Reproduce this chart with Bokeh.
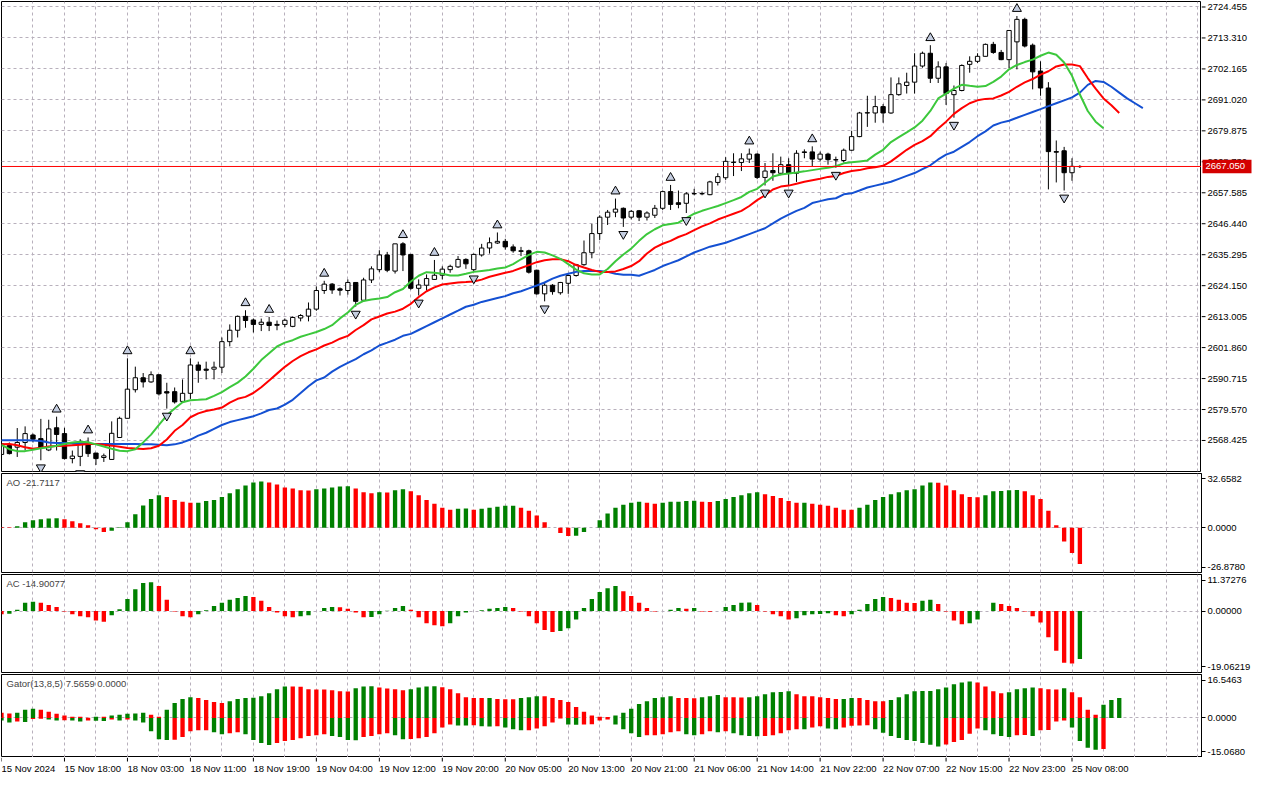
from bokeh.plotting import figure
from bokeh.layouts import column, row
from bokeh.models import Range1d, FixedTicker, Span, Label, ColumnDataSource
from bokeh.core.properties import value
from bokeh.embed import file_html
from bokeh.resources import INLINE

# ---------------- data ----------------
opens = [2563.4, 2566.6, 2566.0, 2567.7, 2570.4, 2569.1, 2565.0, 2573.0, 2570.9, 2561.9,
         2562.7, 2567.7, 2563.9, 2562.3, 2561.6, 2569.5, 2576.4, 2586.7, 2591.0, 2589.5,
         2592.1, 2586.0, 2586.0, 2582.5, 2585.4, 2595.6, 2594.1, 2594.1, 2594.8, 2604.0,
         2608.1, 2613.1, 2611.8, 2610.2, 2611.0, 2610.2, 2610.2, 2609.5, 2612.5, 2613.2,
         2615.7, 2622.4, 2624.7, 2623.0, 2622.4, 2625.3, 2618.9, 2626.2, 2629.9, 2635.2,
         2629.4, 2639.2, 2635.4, 2623.2, 2624.3, 2626.4, 2627.9, 2629.9, 2630.9, 2633.6,
         2629.9, 2635.2, 2637.7, 2639.5, 2640.1, 2638.1, 2636.7, 2636.7, 2629.7, 2621.2,
         2624.3, 2621.6, 2625.0, 2627.8, 2631.7, 2636.0, 2642.9, 2648.8, 2650.6, 2652.0,
         2648.8, 2651.1, 2648.8, 2649.5, 2652.0, 2658.0, 2654.0, 2653.8, 2657.2, 2657.2,
         2656.9, 2661.3, 2663.0, 2668.5, 2668.5, 2669.7, 2671.5, 2663.1, 2665.6, 2664.6,
         2667.7, 2664.6, 2672.3, 2672.3, 2669.7, 2671.5, 2669.5, 2669.2, 2672.9, 2677.8,
         2686.3, 2686.3, 2688.6, 2686.3, 2692.9, 2696.2, 2697.4, 2703.2, 2707.8, 2698.8,
         2702.9, 2692.9, 2694.4, 2703.8, 2704.9, 2706.7, 2711.0, 2708.1, 2705.5, 2711.9,
         2720.0, 2710.7, 2701.4, 2695.3, 2672.4, 2672.7, 2664.8, 2667.0]
highs = [2567.7, 2567.7, 2572.9, 2573.5, 2570.9, 2576.2, 2575.9, 2577.0, 2573.0, 2564.8,
         2568.9, 2569.5, 2563.9, 2563.7, 2575.3, 2577.0, 2598.0, 2595.0, 2592.7, 2593.3,
         2592.1, 2589.2, 2587.5, 2590.4, 2598.0, 2596.8, 2596.8, 2596.8, 2605.5, 2610.2,
         2613.4, 2615.3, 2612.3, 2612.3, 2612.9, 2611.6, 2612.3, 2613.1, 2613.9, 2618.1,
         2623.9, 2625.9, 2625.1, 2623.5, 2626.4, 2625.3, 2627.0, 2631.1, 2636.9, 2636.3,
         2639.2, 2639.8, 2635.4, 2626.4, 2628.2, 2633.4, 2631.1, 2631.7, 2634.8, 2634.0,
         2635.7, 2639.2, 2641.5, 2643.3, 2641.0, 2639.0, 2638.1, 2637.1, 2629.9, 2625.5,
         2624.7, 2625.5, 2628.2, 2632.0, 2640.4, 2646.4, 2649.5, 2651.4, 2655.5, 2652.3,
         2651.4, 2651.4, 2650.9, 2653.2, 2658.4, 2660.4, 2658.4, 2657.8, 2659.0, 2658.0,
         2661.9, 2664.6, 2670.4, 2671.8, 2671.8, 2673.5, 2671.8, 2668.3, 2671.8, 2670.6,
         2670.0, 2672.9, 2673.2, 2674.3, 2672.4, 2672.0, 2670.6, 2673.5, 2679.9, 2686.7,
         2692.5, 2692.5, 2689.5, 2699.1, 2699.1, 2700.8, 2707.8, 2708.4, 2710.7, 2704.9,
         2704.3, 2696.2, 2703.8, 2706.7, 2707.8, 2711.3, 2711.9, 2709.0, 2716.0, 2721.2,
         2720.6, 2711.3, 2704.9, 2697.4, 2676.4, 2674.1, 2670.0, 2667.5]
lows = [2563.0, 2563.4, 2562.5, 2564.8, 2567.7, 2561.3, 2564.6, 2564.8, 2561.6, 2560.2,
        2559.2, 2562.5, 2559.6, 2560.7, 2561.6, 2569.5, 2576.4, 2585.7, 2587.5, 2589.2,
        2584.6, 2579.9, 2581.7, 2582.3, 2583.4, 2589.2, 2590.4, 2590.4, 2592.7, 2602.3,
        2605.5, 2609.0, 2607.3, 2607.8, 2607.8, 2608.1, 2609.2, 2609.2, 2611.3, 2611.3,
        2615.1, 2621.2, 2621.2, 2620.6, 2620.9, 2616.6, 2618.3, 2625.1, 2629.0, 2629.0,
        2628.5, 2629.4, 2622.7, 2620.6, 2622.4, 2626.2, 2626.4, 2628.8, 2630.5, 2630.2,
        2629.3, 2634.6, 2635.7, 2639.2, 2637.1, 2636.0, 2634.8, 2628.5, 2620.9, 2618.5,
        2620.9, 2620.9, 2621.2, 2627.4, 2631.3, 2634.0, 2640.6, 2646.0, 2648.8, 2645.3,
        2648.0, 2647.4, 2647.6, 2648.5, 2651.4, 2651.4, 2652.0, 2650.3, 2656.7, 2656.7,
        2656.7, 2660.2, 2662.2, 2663.6, 2665.4, 2668.3, 2662.5, 2660.2, 2661.9, 2663.9,
        2660.2, 2661.5, 2670.0, 2667.1, 2668.9, 2667.7, 2666.6, 2668.5, 2672.7, 2677.6,
        2681.3, 2682.8, 2682.8, 2686.0, 2692.5, 2693.3, 2693.3, 2702.6, 2697.1, 2697.1,
        2689.2, 2684.6, 2694.1, 2700.8, 2704.3, 2706.7, 2707.6, 2705.3, 2702.4, 2702.0,
        2709.9, 2694.8, 2692.5, 2658.8, 2661.3, 2658.4, 2661.9, 2666.5]
closes = [2567.2, 2563.7, 2567.7, 2570.9, 2568.9, 2565.7, 2572.6, 2570.6, 2561.9, 2562.8,
          2567.7, 2563.7, 2561.9, 2562.9, 2571.0, 2576.4, 2586.9, 2591.0, 2589.5, 2592.1,
          2585.2, 2585.5, 2582.3, 2585.4, 2595.6, 2593.7, 2593.7, 2594.8, 2604.0, 2608.1,
          2613.1, 2611.6, 2610.2, 2611.0, 2609.8, 2609.9, 2611.7, 2612.7, 2613.4, 2615.7,
          2622.4, 2624.7, 2622.6, 2622.5, 2625.3, 2618.5, 2626.2, 2630.2, 2635.2, 2629.7,
          2639.2, 2635.2, 2623.2, 2624.4, 2626.7, 2627.9, 2630.1, 2631.1, 2633.6, 2632.0,
          2635.4, 2637.7, 2639.6, 2640.1, 2638.1, 2636.7, 2636.5, 2629.0, 2621.2, 2624.3,
          2622.0, 2625.3, 2627.8, 2631.7, 2636.0, 2642.9, 2648.8, 2650.6, 2651.7, 2648.5,
          2650.9, 2648.8, 2650.3, 2652.0, 2658.0, 2653.4, 2653.4, 2657.2, 2657.3, 2657.3,
          2661.5, 2663.4, 2668.9, 2668.6, 2669.8, 2671.5, 2663.1, 2665.4, 2664.8, 2667.7,
          2664.6, 2671.8, 2672.1, 2669.7, 2671.5, 2669.5, 2669.4, 2672.9, 2677.8, 2686.3,
          2686.4, 2688.6, 2686.3, 2692.9, 2696.8, 2697.4, 2703.2, 2707.8, 2698.8, 2702.9,
          2693.3, 2694.4, 2703.4, 2704.9, 2706.7, 2711.0, 2708.1, 2705.5, 2716.0, 2720.0,
          2710.4, 2701.1, 2695.3, 2672.4, 2672.2, 2664.8, 2667.1, 2667.05]

# Alligator lines as displayed (already shifted): jaw 8, teeth 5, lips 3 bars forward
jaw = [2568.53, 2568.53, 2568.53, 2568.53, 2568.42, 2568.25, 2567.73, 2567.55, 2567.55, 2567.38,
       2567.38, 2567.20, 2567.13, 2567.13, 2567.13, 2567.13, 2567.13, 2567.13, 2567.03, 2567.03,
       2566.85, 2566.68, 2567.03, 2567.73, 2568.77, 2570.17, 2571.21, 2572.61, 2574.00, 2575.05,
       2575.75, 2576.45, 2577.14, 2578.19, 2579.41, 2579.93, 2581.33, 2583.07, 2585.51, 2587.96,
       2590.05, 2591.10, 2593.19, 2594.93, 2596.33, 2597.72, 2599.47, 2600.86, 2602.61, 2603.65,
       2604.70, 2606.09, 2606.79, 2608.19, 2609.58, 2610.98, 2612.37, 2613.77, 2615.16, 2616.56,
       2617.26, 2618.30, 2619.00, 2619.70, 2620.39, 2621.44, 2622.14, 2623.19, 2624.23, 2625.28,
       2626.67, 2627.72, 2628.42, 2629.11, 2629.46, 2629.46, 2629.46, 2629.11, 2628.42, 2628.07,
       2628.07, 2627.72, 2628.77, 2629.81, 2631.21, 2632.25, 2633.30, 2634.70, 2636.09, 2637.14,
       2638.18, 2638.88, 2639.58, 2640.63, 2641.67, 2642.72, 2643.76, 2644.81, 2646.55, 2648.30,
       2649.69, 2651.09, 2652.14, 2653.88, 2654.58, 2655.27, 2655.62, 2657.02, 2657.37, 2658.41,
       2659.46, 2660.16, 2660.86, 2661.55, 2662.60, 2663.65, 2664.69, 2666.09, 2667.48, 2669.58,
       2671.32, 2672.37, 2674.11, 2675.85, 2677.95, 2679.69, 2681.78, 2682.83, 2683.53, 2684.57,
       2685.62, 2686.67, 2687.71, 2688.76, 2689.81, 2690.85, 2691.90, 2693.64, 2696.43, 2697.83,
       2697.48, 2695.74, 2693.64, 2691.55, 2689.81, 2688.06]
teeth = [2567.03, 2567.13, 2566.68, 2565.98, 2565.46, 2565.81, 2566.23, 2566.40, 2566.57, 2566.68,
         2566.92, 2567.20, 2567.20, 2566.85, 2566.57, 2566.16, 2565.74, 2565.56, 2565.39, 2565.63,
         2566.51, 2568.77, 2571.91, 2574.00, 2576.79, 2578.19, 2579.06, 2579.59, 2580.28, 2582.03,
         2583.42, 2584.12, 2585.51, 2587.61, 2590.05, 2592.49, 2594.93, 2597.03, 2598.77, 2600.16,
         2601.21, 2602.61, 2603.65, 2605.05, 2606.09, 2608.19, 2609.93, 2612.02, 2613.07, 2614.12,
         2614.81, 2615.86, 2617.60, 2620.05, 2622.14, 2623.53, 2624.58, 2624.93, 2625.28, 2625.45,
         2625.63, 2626.32, 2627.37, 2628.07, 2628.77, 2629.46, 2630.51, 2631.56, 2632.60, 2633.30,
         2633.65, 2633.65, 2632.95, 2631.56, 2630.68, 2629.81, 2629.11, 2629.11, 2629.29, 2630.16,
         2631.21, 2632.95, 2635.74, 2637.83, 2639.23, 2640.28, 2641.67, 2642.72, 2644.11, 2645.51,
         2646.55, 2647.95, 2649.00, 2650.04, 2651.09, 2652.83, 2654.93, 2656.67, 2658.76, 2659.81,
         2660.16, 2660.86, 2661.55, 2662.08, 2662.60, 2663.30, 2663.65, 2664.69, 2665.39, 2665.74,
         2666.44, 2666.79, 2667.31, 2668.88, 2670.97, 2673.06, 2674.81, 2676.20, 2677.95, 2680.74,
         2683.18, 2685.97, 2688.06, 2689.81, 2690.85, 2691.38, 2691.55, 2692.60, 2693.89, 2695.74,
         2697.31, 2698.53, 2700.10, 2701.32, 2703.06, 2703.76, 2703.76, 2703.17, 2698.87, 2695.04,
         2691.55, 2689.11, 2686.32]
lips = [2566.85, 2565.28, 2564.59, 2564.59, 2565.11, 2565.63, 2565.98, 2566.51, 2567.13, 2567.73,
        2567.97, 2567.80, 2567.03, 2566.23, 2565.46, 2564.76, 2564.59, 2565.28, 2567.73, 2570.52,
        2574.00, 2577.49, 2579.93, 2582.20, 2582.90, 2583.07, 2583.25, 2584.47, 2585.86, 2587.61,
        2589.25, 2591.44, 2594.23, 2597.37, 2599.82, 2602.26, 2603.65, 2604.52, 2605.75, 2606.62,
        2607.49, 2608.54, 2609.93, 2612.37, 2614.47, 2617.26, 2618.65, 2619.17, 2619.52, 2620.05,
        2621.79, 2622.94, 2625.63, 2627.72, 2629.01, 2628.77, 2628.42, 2627.82, 2627.82, 2628.42,
        2629.11, 2629.46, 2629.81, 2630.34, 2630.68, 2631.91, 2633.65, 2635.22, 2636.33, 2636.09,
        2635.04, 2633.82, 2631.91, 2629.92, 2628.59, 2628.17, 2628.17, 2630.16, 2632.95, 2635.39,
        2637.49, 2640.28, 2642.72, 2644.46, 2645.86, 2646.38, 2646.80, 2648.47, 2650.04, 2651.09,
        2651.96, 2652.83, 2653.88, 2654.93, 2656.08, 2657.89, 2659.01, 2661.20, 2663.47, 2664.17,
        2664.52, 2664.87, 2665.29, 2665.74, 2666.19, 2666.61, 2667.13, 2668.18, 2668.53, 2668.88,
        2669.23, 2671.32, 2673.06, 2675.85, 2677.60, 2679.34, 2681.09, 2683.53, 2687.02, 2691.55,
        2693.29, 2695.04, 2696.43, 2696.08, 2695.74, 2695.98, 2697.48, 2699.40, 2702.01, 2703.58,
        2704.63, 2705.50, 2706.90, 2708.05, 2707.25, 2704.46, 2699.68, 2692.95, 2687.02, 2683.18,
        2680.84]

fractal_up = [7, 11, 16, 24, 31, 34, 41, 51, 55, 63, 78, 85, 95, 103, 118, 129]
fractal_down = [5, 10, 21, 45, 53, 60, 69, 79, 87, 97, 100, 106, 121, 135]

ao = [0.5, 0.4, 1.0, 3.3, 4.5, 5.1, 5.6, 5.7, 5.1, 3.9,
      2.7, 1.6, -0.8, -2.5, -1.8, 0.4, 3.3, 8.2, 13.4, 17.3,
      19.6, 18.5, 16.7, 15.6, 15.0, 15.1, 16.1, 16.7, 18.5, 20.8,
      23.2, 25.5, 27.2, 27.8, 27.2, 26.1, 24.3, 23.7, 22.6, 22.5,
      23.2, 23.7, 24.3, 24.9, 25.0, 23.7, 21.4, 20.8, 21.4, 21.3,
      22.6, 23.2, 22.0, 19.6, 16.7, 14.4, 12.1, 10.9, 11.5, 11.6,
      10.9, 11.5, 12.1, 12.6, 13.2, 13.3, 12.1, 10.3, 7.4, 3.3,
      0.1, -3.1, -4.9, -4.8, -2.5, 0.1, 4.5, 8.6, 12.1, 13.8,
      15.0, 15.6, 15.0, 14.4, 15.0, 15.6, 15.7, 16.1, 16.2, 15.6,
      15.5, 16.1, 17.3, 18.5, 19.6, 20.8, 21.4, 20.2, 19.1, 17.9,
      16.1, 15.0, 15.1, 14.4, 13.8, 13.2, 12.1, 10.9, 10.8, 12.1,
      13.8, 16.7, 18.5, 20.2, 21.4, 22.6, 23.2, 25.5, 27.2, 27.1,
      25.5, 22.6, 20.2, 18.5, 18.4, 19.6, 22.0, 22.1, 22.6, 22.7,
      22.0, 19.6, 17.3, 10.3, 1.6, -8.2, -15.2, -21.7117]
ac = [-1.0, -0.8, 0.4, 2.6, 2.9, 2.6, 1.9, 1.3, -0.1, -1.0,
      -1.6, -1.9, -2.9, -3.3, -1.3, 0.6, 3.8, 6.8, 8.7, 9.0,
      7.8, 3.5, -0.1, -1.6, -1.9, -1.0, 0.3, 1.6, 2.6, 3.5,
      4.1, 4.7, 4.4, 3.2, 1.3, -0.4, -1.6, -1.9, -1.6, -1.3,
      0.05, 1.0, 1.3, 1.2, 0.7, -0.4, -1.9, -1.8, -1.0, 0.1,
      1.0, 1.6, 0.4, -1.9, -3.8, -4.4, -4.7, -3.8, -1.6, -0.4,
      0.05, 0.3, 0.7, 1.0, 1.3, 1.0, -0.1, -1.6, -3.8, -5.9,
      -6.5, -6.2, -5.3, -2.6, 1.0, 3.8, 5.9, 7.1, 7.8, 6.2,
      4.7, 2.6, 1.0, -0.1, 0.05, 0.4, 1.0, 0.7, 1.0, -0.1,
      -0.2, 0.0, 1.3, 1.9, 2.6, 2.7, 1.9, -0.1, -1.0, -1.6,
      -2.6, -2.2, -1.3, -1.0, -0.9, -0.7, -1.3, -1.6, -1.0, 0.4,
      2.2, 3.8, 4.4, 4.1, 3.5, 2.6, 2.5, 3.2, 3.5, 2.2,
      -0.1, -2.9, -4.1, -3.8, -2.6, 0.0, 2.6, 2.2, 1.6, 1.0,
      -0.1, -1.6, -3.5, -8.1, -12.3, -16.0, -16.3, -14.90077]
gator_up = [2.0, 1.7, 2.0, 3.1, 3.5, 3.1, 2.4, 1.6, 0.9, 0.5,
            0.45, 0.1, 0.5, 0.45, 0.9, 1.2, 1.6, 1.65, 2.0, 1.2,
            0.5, 3.1, 5.7, 7.2, 7.9, 7.6, 6.8, 6.1, 5.7, 6.4,
            7.2, 7.6, 7.65, 8.3, 9.4, 10.9, 12.0, 11.95, 11.9, 10.9,
            10.85, 10.8, 10.5, 10.2, 10.1, 11.3, 12.0, 12.05, 11.6, 11.2,
            10.9, 10.5, 10.9, 11.6, 12.0, 12.05, 11.65, 10.9, 9.4, 7.9,
            7.6, 7.55, 7.6, 7.2, 7.15, 7.1, 7.55, 7.9, 8.3, 8.25,
            7.6, 6.8, 6.1, 4.2, 2.4, 0.9, 0.5, 0.4, 0.9, 2.0,
            3.5, 5.3, 6.4, 7.6, 7.9, 8.3, 7.6, 7.55, 7.5, 7.9,
            8.3, 8.7, 7.9, 7.85, 7.8, 7.85, 8.3, 9.0, 9.8, 9.85,
            10.2, 9.0, 8.3, 8.25, 7.9, 7.6, 7.2, 7.25, 7.6, 7.55,
            6.8, 6.4, 6.35, 6.8, 7.9, 9.0, 10.2, 10.25, 10.3, 10.9,
            11.6, 12.8, 13.5, 13.9, 13.5, 12.0, 10.2, 9.4, 9.8, 10.9,
            11.3, 11.6, 11.3, 10.9, 10.85, 11.3, 9.8, 7.9, 3.1, 1.2,
            5.0, 6.8, 7.5659]
gator_down = [-1.0, -1.7, -1.4, -1.5, -0.4, -0.3, -0.6, -1.0, -0.9, -1.0,
              -1.4, -1.0, -1.1, -1.2, -0.6, -1.0, -0.6, -1.0, -1.7, -5.1,
              -8.1, -8.4, -8.3, -7.3, -5.1, -4.7, -4.65, -5.45, -6.2, -5.8,
              -5.45, -6.2, -8.4, -9.5, -10.3, -9.5, -8.8, -8.4, -7.7, -6.9,
              -6.6, -6.2, -6.9, -7.3, -8.4, -8.45, -7.3, -6.9, -6.2, -5.8,
              -6.6, -8.1, -8.05, -7.7, -7.3, -5.8, -3.6, -2.5, -2.85, -2.9,
              -2.8, -3.2, -3.25, -3.2, -3.6, -4.3, -4.7, -4.65, -4.0, -3.2,
              -1.7, -0.25, -2.5, -2.55, -2.5, -2.4, -1.0, -0.6, -2.5, -4.3,
              -5.8, -7.3, -6.6, -6.55, -6.2, -5.45, -5.1, -6.2, -6.6, -6.2,
              -5.1, -5.45, -5.1, -5.8, -6.6, -6.9, -6.95, -6.9, -6.6, -5.8,
              -4.7, -4.3, -4.35, -3.6, -3.2, -4.0, -4.3, -3.6, -3.0, -2.9,
              -2.8, -4.3, -5.6, -6.9, -7.6, -8.4, -8.8, -9.5, -10.2, -10.9,
              -10.1, -9.2, -8.4, -6.0, -4.0, -4.7, -6.2, -6.9, -7.3, -6.6,
              -6.5, -6.9, -4.7, -4.6, -1.4, -1.0, -3.6, -8.8, -11.4, -12.1,
              -11.8]

price_ticks = [2724.455, 2713.310, 2702.165, 2691.020, 2679.875, 2668.730, 2657.585,
               2646.440, 2635.295, 2624.150, 2613.005, 2601.860, 2590.715, 2579.570, 2568.425]
current_price = 2667.05
ao_range = (-26.8780, 32.6582)
ac_range = (-19.06219, 11.37276)
gator_range = (-15.0680, 16.5463)
time_tick_bars = [0, 8, 16, 24, 32, 40, 48, 56, 64, 72, 80, 88, 96, 104, 112, 120, 128, 136]
time_tick_labels = ["15 Nov 2024", "15 Nov 18:00", "18 Nov 03:00", "18 Nov 11:00", "18 Nov 19:00",
                    "19 Nov 04:00", "19 Nov 12:00", "19 Nov 20:00", "20 Nov 05:00", "20 Nov 13:00",
                    "20 Nov 21:00", "21 Nov 06:00", "21 Nov 14:00", "21 Nov 22:00", "22 Nov 07:00",
                    "22 Nov 15:00", "22 Nov 23:00", "25 Nov 08:00"]

# ---------------- styling ----------------
FONT = "Liberation Sans"
FS = "9.5px"
GRID = "#b8b0bc"
GREEN = "#008000"
RED = "#ff0000"
BLUE_L = "#1450d2"
RED_L = "#ff0000"
GREEN_L = "#3cc83c"
FW = 1200
AXW = 62

xr = Range1d(0.0, 152.45)


def base(h, yr, axis=True):
    p = figure(frame_width=FW, frame_height=h, x_range=xr, y_range=yr,
               output_backend="svg", toolbar_location=None,
               y_axis_location=("right" if axis else None), x_axis_location=None,
               min_border_left=1, min_border_right=(4 if axis else 0),
               min_border_top=0, min_border_bottom=2)
    p.outline_line_color = "black"
    p.outline_line_width = 1
    p.background_fill_color = "white"
    p.border_fill_color = "white"
    p.xgrid.ticker = FixedTicker(ticks=list(range(4, 153, 4)))
    p.xgrid.grid_line_color = GRID
    p.xgrid.grid_line_dash = "3 3"
    p.ygrid.grid_line_color = GRID
    p.ygrid.grid_line_dash = "3 3"
    if axis:
        ax = p.yaxis[0]
        ax.axis_line_color = "black"
        ax.major_tick_line_color = "black"
        ax.major_tick_in = 0
        ax.major_tick_out = 4
        ax.minor_tick_line_color = None
        ax.major_label_text_font = FONT
        ax.major_label_text_font_size = FS
        ax.major_label_text_color = "black"
        ax.major_label_standoff = 2
    return p


def sub_ticks(p, lo, hi, inset, fmt_top, fmt_zero, fmt_bot):
    t_top = hi - inset
    t_bot = lo + inset
    p.yaxis.ticker = FixedTicker(ticks=[t_bot, 0.0, t_top])
    p.yaxis.major_label_overrides = {t_top: fmt_top, 0.0: fmt_zero, t_bot: fmt_bot}
    p.ygrid.ticker = FixedTicker(ticks=[0.0])


def hist_colors(vals, first, use_abs=False):
    cols = [first]
    for i in range(1, len(vals)):
        a = abs(vals[i]) if use_abs else vals[i]
        b = abs(vals[i - 1]) if use_abs else vals[i - 1]
        if a > b:
            cols.append(GREEN)
        elif a < b:
            cols.append(RED)
        else:
            cols.append(cols[-1])
    return cols


def plain(fw, fh, xrange, yrange, top=0, bottom=0):
    q = figure(frame_width=fw, frame_height=fh, x_range=xrange, y_range=yrange,
               output_backend="svg", toolbar_location=None,
               x_axis_location=None, y_axis_location=None,
               min_border_left=0, min_border_right=0, min_border_top=top, min_border_bottom=bottom)
    q.outline_line_color = None
    q.xgrid.visible = False
    q.ygrid.visible = False
    q.background_fill_color = "white"
    q.border_fill_color = "white"
    return q


# ---------------- main price panel ----------------
MAIN_H = 470
yr_main = Range1d(2557.26, 2726.43)
p = base(MAIN_H, yr_main, axis=False)
p.min_border_top = 1
p.ygrid.ticker = FixedTicker(ticks=price_ticks)

n = len(closes)
xs = list(range(n))
csrc = ColumnDataSource(dict(
    x=xs, o=opens, h=highs, l=lows, c=closes,
    top=[max(o, c) for o, c in zip(opens, closes)],
    bot=[min(o, c) for o, c in zip(opens, closes)],
    fill=["white" if c >= o else "black" for o, c in zip(opens, closes)],
))
p.segment(x0="x", y0="l", x1="x", y1="h", source=csrc, line_color="black", line_width=1)
p.vbar(x="x", width=0.55, top="top", bottom="bot", fill_color="fill",
       line_color="black", line_width=1, source=csrc)

p.line(list(range(len(jaw))), jaw, line_color=BLUE_L, line_width=2)
p.line(list(range(len(teeth))), teeth, line_color=RED_L, line_width=2)
p.line(list(range(len(lips))), lips, line_color=GREEN_L, line_width=2)

FR_OFF = 2.6
p.scatter(fractal_up, [highs[i] + FR_OFF for i in fractal_up], marker="triangle", size=9,
          fill_color="#c4cde0", line_color="black", line_width=1)
p.scatter(fractal_down, [lows[i] - FR_OFF for i in fractal_down], marker="inverted_triangle", size=9,
          fill_color="#c4cde0", line_color="black", line_width=1)

p.add_layout(Span(location=current_price, dimension="width", line_color="#ff0000", line_width=1))

# price scale strip (right of the main panel)
ps = plain(AXW, MAIN_H, Range1d(0, AXW), yr_main, top=1, bottom=2)
ps.segment(x0=[0] * len(price_ticks), x1=[4] * len(price_ticks), y0=price_ticks, y1=price_ticks,
           line_color="black", line_width=1)
ps.text(x=[6] * len(price_ticks), y=price_ticks, text=["%.3f" % t for t in price_ticks],
        text_baseline="middle", text_align="left", text_font=value(FONT),
        text_font_size=FS, text_color="black")
box_half = 2.45
ps.quad(left=[1], right=[50], top=[current_price + box_half], bottom=[current_price - box_half],
        fill_color="#d40000", line_color=None)
ps.text(x=[4], y=[current_price], text=["%.3f" % current_price], text_baseline="middle",
        text_align="left", text_font=value(FONT), text_font_size=FS, text_color="white")

# ---------------- AO ----------------
pa = base(99, Range1d(*ao_range))
sub_ticks(pa, ao_range[0], ao_range[1], 3.3, "32.6582", "0.0000", "-26.8780")
asrc = ColumnDataSource(dict(x=list(range(len(ao))), v=ao, col=hist_colors(ao, RED)))
pa.vbar(x="x", top="v", bottom=0, width=0.55, fill_color="col", line_color=None, source=asrc)
pa.add_layout(Label(x=0, y=ao_range[1], x_offset=5, y_offset=-3, text="AO -21.7117",
                    text_font=FONT, text_font_size=FS, text_baseline="top"))

# ---------------- AC ----------------
pc = base(98, Range1d(*ac_range))
sub_ticks(pc, ac_range[0], ac_range[1], 1.75, "11.37276", "0.00000", "-19.06219")
acsrc = ColumnDataSource(dict(x=list(range(len(ac))), v=ac, col=hist_colors(ac, RED)))
pc.vbar(x="x", top="v", bottom=0, width=0.55, fill_color="col", line_color=None, source=acsrc)
pc.add_layout(Label(x=0, y=ac_range[1], x_offset=5, y_offset=-3, text="AC -14.90077",
                    text_font=FONT, text_font_size=FS, text_baseline="top"))

# ---------------- Gator ----------------
pg = base(83, Range1d(*gator_range))
pg.min_border_bottom = 0
sub_ticks(pg, gator_range[0], gator_range[1], 2.1, "16.5463", "0.0000", "-15.0680")
gusrc = ColumnDataSource(dict(x=list(range(len(gator_up))), v=gator_up,
                              col=hist_colors(gator_up, RED)))
gdsrc = ColumnDataSource(dict(x=list(range(len(gator_down))), v=gator_down,
                              col=hist_colors(gator_down, GREEN, use_abs=True)))
pg.vbar(x="x", top="v", bottom=0, width=0.55, fill_color="col", line_color=None, source=gusrc)
pg.vbar(x="x", top=0, bottom="v", width=0.55, fill_color="col", line_color=None, source=gdsrc)
pg.add_layout(Label(x=0, y=gator_range[1], x_offset=5, y_offset=-3,
                    text="Gator(13,8,5) 7.5659 0.0000",
                    text_font=FONT, text_font_size=FS, text_baseline="top"))

# ---------------- time scale strip ----------------
TH = 20
pt = plain(FW, TH, xr, Range1d(0, TH))
pt.min_border_left = 1
pt.segment(x0=time_tick_bars, x1=time_tick_bars, y0=[TH] * len(time_tick_bars),
           y1=[TH - 4] * len(time_tick_bars), line_color="black", line_width=1)
pt.text(x=time_tick_bars, y=[TH - 5] * len(time_tick_bars), text=time_tick_labels,
        text_baseline="top", text_align="left", text_font=value(FONT),
        text_font_size=FS, text_color="black")

layout = column(row(p, ps, spacing=0), pa, pc, pg, pt, spacing=0)

with open("out.html", "w") as f:
    f.write(file_html(layout, INLINE))
